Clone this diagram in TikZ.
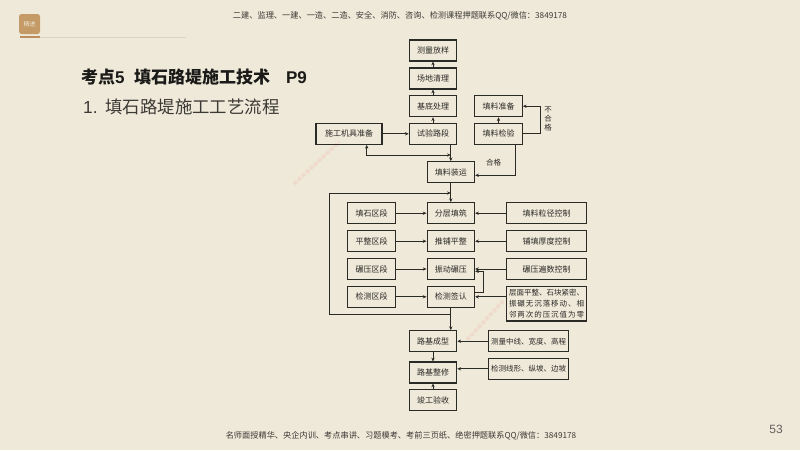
\documentclass[tikz,border=0pt]{standalone}
\usepackage{fontspec}
\setmainfont{Noto Sans CJK SC}
\newfontfamily\numf{Liberation Sans}
\usetikzlibrary{arrows.meta,calc}
\definecolor{bg}{HTML}{EFE9D9}
\definecolor{ink}{HTML}{2A2A27}
\definecolor{badge}{HTML}{C49A66}
\definecolor{badgeline}{HTML}{BF8C5C}
\definecolor{rulec}{HTML}{D9D3C3}
\definecolor{titlec}{HTML}{1A1A18}
\definecolor{subc}{HTML}{3C3A36}
\definecolor{headc}{HTML}{3A3935}
\definecolor{wmark}{HTML}{EFDACB}
\tikzset{
  x=1pt,y=-1pt,
  bx/.style={draw=ink,line width=1.05pt,inner sep=0pt,text=ink,font=\fontsize{8}{10}\selectfont,align=center},
  smbx/.style={bx,minimum width=47.5pt,minimum height=21pt},
  widebx/.style={bx,minimum width=80.4pt,minimum height=21pt},
  arr/.style={draw=ink,line width=0.75pt,-{Stealth[length=3.8pt,width=3.3pt]}},
  arrb/.style={draw=ink,line width=0.75pt,{Stealth[length=3.8pt,width=3.3pt]}-{Stealth[length=3.8pt,width=3.3pt]}},
  lab/.style={text=ink,font=\fontsize{7.5}{9}\selectfont,inner sep=0pt,align=center},
  head/.style={text=headc,font=\fontsize{8.2}{10}\selectfont,inner sep=0pt},
  wm/.style={draw=wmark,line width=3.5pt,dash pattern=on 4pt off 1.5pt}
}
\begin{document}
\begin{tikzpicture}
\useasboundingbox (0,0) rectangle (800,450);
\fill[bg] (0,0) rectangle (800,450);
% header
\fill[badge,rounded corners=2.5pt] (19,14) rectangle (40,34);
\node[text=bg,font=\fontsize{6}{7}\selectfont,inner sep=0pt] (badgetext) at (29.5,24) {精进};
\fill[rulec] (40,37) rectangle (186,38.2);
\fill[badgeline] (20,36) rectangle (40,38.2);
\node[head] (toptext) at (400,16) {二建、监理、一建、一造、二造、安全、消防、咨询、检测课程押题联系QQ/微信：3849178};
\node[head] (bottext) at (401,436) {名师面授精华、央企内训、考点串讲、习题模考、考前三页纸、绝密押题联系QQ/微信：3849178};
\node[text=titlec,font=\fontsize{17}{20}\selectfont\bfseries,inner sep=0pt,anchor=west] (title) at (81,77) {考点{\numf 5}\hspace{0.55em}填石路堤施工技术\hspace{0.95em}{\numf P9}};
\node[text=subc,font=\fontsize{17.4}{20}\selectfont,inner sep=0pt,anchor=west] (subtitle) at (83,107) {{\numf 1.}\hspace{0.45em}填石路堤施工工艺流程};
\node[text=headc!80,font=\numf\fontsize{12}{14}\selectfont,inner sep=0pt] (pagenum) at (776,429) {53};
% watermark smudges
\draw[wm] (294,184) -- (339,142);
\draw[wm] (467,340) -- (504,300);
% flow boxes, top
\node[smbx] (survey) at (433,50.5) {测量放样};
\node[smbx] (clear)  at (433,78.5) {场地清理};
\node[smbx] (base)   at (433,106.2) {基底处理};
\node[smbx] (trial)  at (433,133.8) {试验路段};
\node[bx,minimum width=66pt,minimum height=21pt] (mach) at (349,133.8) {施工机具准备};
\node[smbx] (fillprep)  at (498.5,106.2) {填料准备};
\node[smbx] (fillcheck) at (498.5,133.8) {填料检验};
\node[smbx] (haul) at (450.8,172.2) {填料装运};
% middle
\node[smbx] (layer)  at (450.8,213.2) {分层填筑};
\node[smbx] (spread) at (450.8,241.2) {推铺平整};
\node[smbx] (roll)   at (450.8,269) {振动碾压};
\node[smbx] (sign)   at (450.8,296.8) {检测签认};
\node[smbx] (zfill)   at (371.7,213.2) {填石区段};
\node[smbx] (zlevel)  at (371.7,241.2) {平整区段};
\node[smbx] (zroll)   at (371.7,269) {碾压区段};
\node[smbx] (zcheck)  at (371.7,296.8) {检测区段};
\node[widebx] (csize)  at (546.5,213.2) {填料粒径控制};
\node[widebx] (cthick) at (546.5,241.2) {铺填厚度控制};
\node[widebx] (cpass)  at (546.5,269) {碾压遍数控制};
\node[bx,minimum width=80.4pt,minimum height=34.4pt,font=\fontsize{7.5}{11}\selectfont] (cstd) at (546.5,303.8) {\makebox[75pt][s]{层面平整、石块紧密、}\\\makebox[75pt]{振\hfill 碾\hfill 无\hfill 沉\hfill 落\hfill 移\hfill 动\hfill 、\hfill 相}\\\makebox[75pt]{邻\hfill 两\hfill 次\hfill 的\hfill 压\hfill 沉\hfill 值\hfill 为\hfill 零}};
% bottom
\node[smbx] (form)   at (433,341.2) {路基成型};
\node[smbx] (trim)   at (433,372.5) {路基整修};
\node[smbx] (accept) at (433,400) {竣工验收};
\node[bx,minimum width=80pt,minimum height=21pt,font=\fontsize{7.5}{9}\selectfont] (mline) at (528.7,341.2) {测量中线、宽度、高程};
\node[bx,minimum width=80pt,minimum height=21pt,font=\fontsize{7.5}{9}\selectfont] (cline) at (528.7,368.8) {检测线形、纵坡、边坡};
% labels
\node[lab] (bad) at (548,119) {不\\[0.2pt]合\\[0.2pt]格};
\node[lab] (ok) at (493.7,162.5) {合格};
% junction coordinates
\coordinate (spine) at (450.8,0);
\coordinate (jmach) at (366.7,155);
\coordinate (jbadx) at (540.7,0);
\coordinate (jokb)  at (515.7,175.3);
\coordinate (jloopt) at (329.3,193);
\coordinate (jloopb) at (329.3,314.3);
\coordinate (jret) at (483.7,271.3);
\coordinate (jsign) at (483.7,292.3);
% connectors
\draw[arr] (clear) -- (survey);
\draw[arr] (base) -- (clear);
\draw[arr] (trial) -- (base);
\draw[arr] (mach) -- (trial);
\draw[arr] (fillcheck) -- (fillprep);
\draw[arr] (fillcheck.east) -- (fillcheck.east -| jbadx) -- (fillprep.east -| jbadx) -- (fillprep.east);
\draw[arr] (trial.south -| spine) -- (haul.north);
\draw[arrb] (mach.south -| jmach) -- (jmach) -- (jmach -| spine);
\draw[arr] (fillcheck.south -| jokb) -- (jokb) -- (jokb -| haul.east);
\draw[arr] (haul.south) -- (layer.north);
\draw[arr] (jloopb -| spine) -- (jloopb) -- (jloopt) -- (jloopt -| spine);
\foreach \a/\b in {zfill/layer,zlevel/spread,zroll/roll,zcheck/sign,csize/layer,cthick/spread,cpass/roll}
  \draw[arr] (\a) -- (\b);
\draw[arr] (mline.west) -- (form.east);
\draw[arr] (cstd.west |- sign.east) -- (sign.east);
\draw[arr] (cline.west) -- (cline.west -| trim.east);
\draw[draw=ink,line width=0.75pt] (jsign -| sign.east) -- (jsign) -- (jret);
\draw[arr] (jret) -- (jret -| roll.east);
\draw[arr] (sign.south) -- (sign.south |- form.north);
\draw[arr] (form) -- (trim);
\draw[arr] (accept) -- (trim);
\end{tikzpicture}
\end{document}
